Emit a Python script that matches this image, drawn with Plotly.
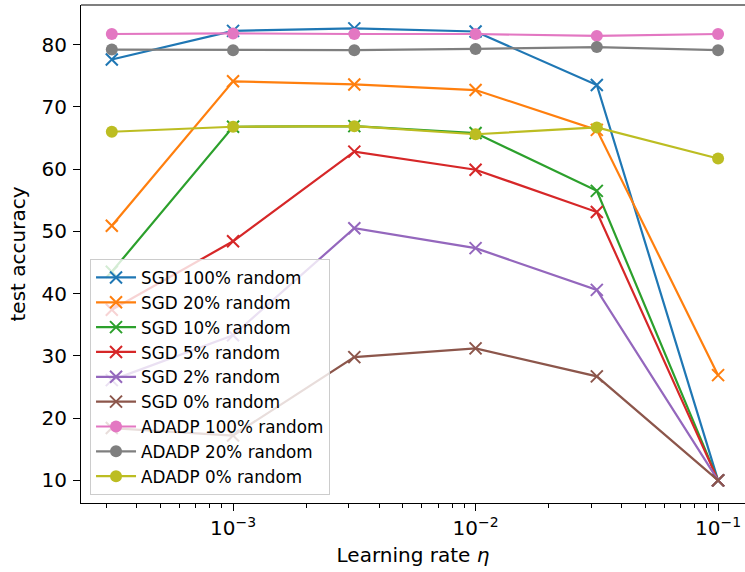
import plotly.graph_objects as go

learning_rates = [10**-3.5, 1e-3, 10**-2.5, 1e-2, 10**-1.5, 1e-1]

sgd_100 = [77.6, 82.2, 82.6, 82.1, 73.5, 10.0]
sgd_20 = [50.9, 74.1, 73.6, 72.7, 66.3, 26.9]
sgd_10 = [43.5, 66.8, 66.9, 65.8, 56.5, 10.0]
sgd_5 = [37.4, 48.4, 62.8, 59.9, 53.1, 10.0]
sgd_2 = [26.1, 33.3, 50.5, 47.3, 40.6, 10.0]
sgd_0 = [18.4, 17.2, 29.8, 31.2, 26.7, 10.0]
adadp_100 = [81.7, 81.8, 81.7, 81.7, 81.4, 81.7]
adadp_20 = [79.2, 79.1, 79.1, 79.3, 79.6, 79.1]
adadp_0 = [66.0, 66.8, 66.9, 65.6, 66.7, 61.7]

series = [
    ("SGD 100% random", sgd_100, "#1f77b4", "x"),
    ("SGD 20% random", sgd_20, "#ff7f0e", "x"),
    ("SGD 10% random", sgd_10, "#2ca02c", "x"),
    ("SGD 5% random", sgd_5, "#d62728", "x"),
    ("SGD 2% random", sgd_2, "#9467bd", "x"),
    ("SGD 0% random", sgd_0, "#8c564b", "x"),
    ("ADADP 100% random", adadp_100, "#e377c2", "o"),
    ("ADADP 20% random", adadp_20, "#7f7f7f", "o"),
    ("ADADP 0% random", adadp_0, "#bcbd22", "o"),
]

x_tick_vals = [1e-3, 1e-2, 1e-1]
x_tick_text = ["10<sup>\u22123</sup>", "10<sup>\u22122</sup>", "10<sup>\u22121</sup>"]
x_minor_vals = [m * 10**e for e in (-4, -3, -2, -1) for m in range(2, 10)]
y_tick_vals = [10, 20, 30, 40, 50, 60, 70, 80]

FONT = "DejaVu Sans"

fig = go.Figure()
for i, (name, vals, color, kind) in enumerate(series):
    if kind == "x":
        marker = dict(symbol="x-thin", size=12, color=color,
                      line=dict(color=color, width=2))
    else:
        marker = dict(symbol="circle", size=12, color=color,
                      line=dict(width=0))
    fig.add_trace(go.Scatter(
        x=learning_rates, y=vals, name=name, mode="lines+markers",
        line=dict(color=color, width=2.2), marker=marker,
        legendgroup=f"g{i}",
    ))

fig.update_layout(
    template="none",
    width=745, height=572,
    margin=dict(l=81, r=0, t=5, b=69),
    paper_bgcolor="white", plot_bgcolor="white",
    font=dict(family=FONT, color="black", size=20),
    showlegend=True,
    legend=dict(
        x=0.0136, y=0.016, xanchor="left", yanchor="bottom",
        bgcolor="rgba(255,255,255,0.8)", bordercolor="#cccccc", borderwidth=1,
        font=dict(family=FONT, size=16.8, color="black"),
        itemwidth=40, tracegroupgap=0,
    ),
    shapes=[dict(type="line", xref="paper", yref="paper", x0=0, x1=1, y0=1, y1=1,
                 line=dict(color="black", width=1.2), layer="above")],
)

fig.update_xaxes(
    type="log", range=[-3.627, -0.889], automargin=False,
    tickmode="array", tickvals=x_tick_vals, ticktext=x_tick_text,
    ticks="outside", ticklen=7, tickwidth=1, tickcolor="black",
    minor=dict(tickmode="array", tickvals=x_minor_vals, ticks="outside",
               ticklen=4, tickwidth=0.8, tickcolor="black", showgrid=False),
    showline=True, linecolor="black", linewidth=1.2, mirror=False,
    showgrid=False, zeroline=False,
    tickfont=dict(family=FONT, size=20),
    title=dict(text="Learning rate <i>\u03b7</i>", font=dict(family=FONT, size=20), standoff=8),
)
fig.update_yaxes(
    range=[6.36, 86.36], automargin=False,
    tickmode="array", tickvals=y_tick_vals,
    ticks="outside", ticklen=7, tickwidth=1, tickcolor="black",
    ticklabelstandoff=2,
    showline=True, linecolor="black", linewidth=1.2, mirror=False,
    showgrid=False, zeroline=False,
    tickfont=dict(family=FONT, size=20),
    title=dict(text="test accuracy", font=dict(family=FONT, size=20), standoff=10),
)

fig.write_html(
    "out.html",
    config={"displayModeBar": False},
    post_script="document.body.style.margin='0';document.body.style.overflow='hidden';",
)
